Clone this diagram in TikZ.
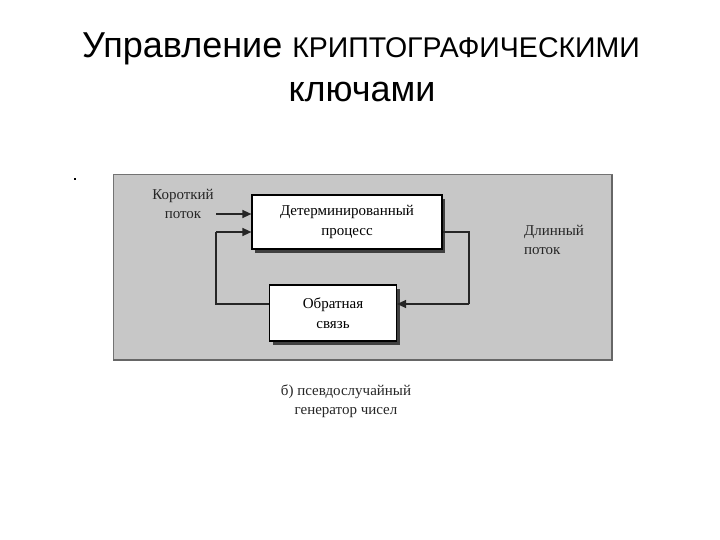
\documentclass[tikz,border=0pt]{standalone}
\usepackage{fontspec}
\setmainfont{Liberation Serif}
\newfontfamily\titlefont{Liberation Sans}
\usetikzlibrary{arrows.meta,shadows}
\begin{document}
\begin{tikzpicture}[x=1pt,y=-1pt,
  blk/.style={draw=black,line width=1.2pt,fill=white,minimum width=#1,align=center,font=\fontsize{15}{20}\selectfont,
    drop shadow={shadow xshift=3pt,shadow yshift=-4pt,fill=black!75,opacity=1}},
  lbl/.style={align=left,font=\fontsize{15}{19}\selectfont,text=black!85},
  conn/.style={line width=1.4pt,draw=black!85},
  arr/.style={conn,-{Triangle[length=9pt,width=8pt]}}]
\useasboundingbox (0,0) rectangle (720,540);
\fill[white] (0,0) rectangle (720,540);
\node[font=\titlefont,anchor=base] (t1) at (361,58) {\fontsize{36}{40}\selectfont Управление \fontsize{28.5}{32}\selectfont КРИПТОГРАФИЧЕСКИМИ};
\node[font=\titlefont,anchor=base] (t2) at (362,102) {\fontsize{36}{40}\selectfont ключами};
\node[fill=black,inner sep=0.8pt] (dot) at (75,179) {};
\draw[fill=black!22,draw=black!55,line width=1pt] (113,175) rectangle (612,359);
\draw[black!60,line width=2pt] (612,175) -- (612,360) -- (113,360);
\node[blk=190pt,minimum height=54pt] (det) at (347,222) {Детерминированный\\процесс};
\node[blk=127pt,minimum height=56pt] (fb) at (333,313) {Обратная\\связь};
\node[lbl,align=center] (short) at (183,204) {Короткий\\поток};
\node[lbl] (long) at (554,240) {Длинный\\поток};
\coordinate (a1) at (216,214);
\coordinate (r1) at (469,232);
\coordinate (r2) at (469,304);
\coordinate (l1) at (216,304);
\coordinate (l2) at (216,232);
\draw[arr] (a1) -- (a1 -| det.west);
\draw[conn] (r1 -| det.east) -- (r1) -- (r2);
\draw[arr] (r2) -- (r2 -| fb.east);
\draw[conn] (l1 -| fb.west) -- (l1) -- (l2);
\draw[arr] (l2) -- (l2 -| det.west);
\node[lbl,align=center] (cap) at (346,401) {б) псевдослучайный\\генератор чисел};
\end{tikzpicture}
\end{document}
